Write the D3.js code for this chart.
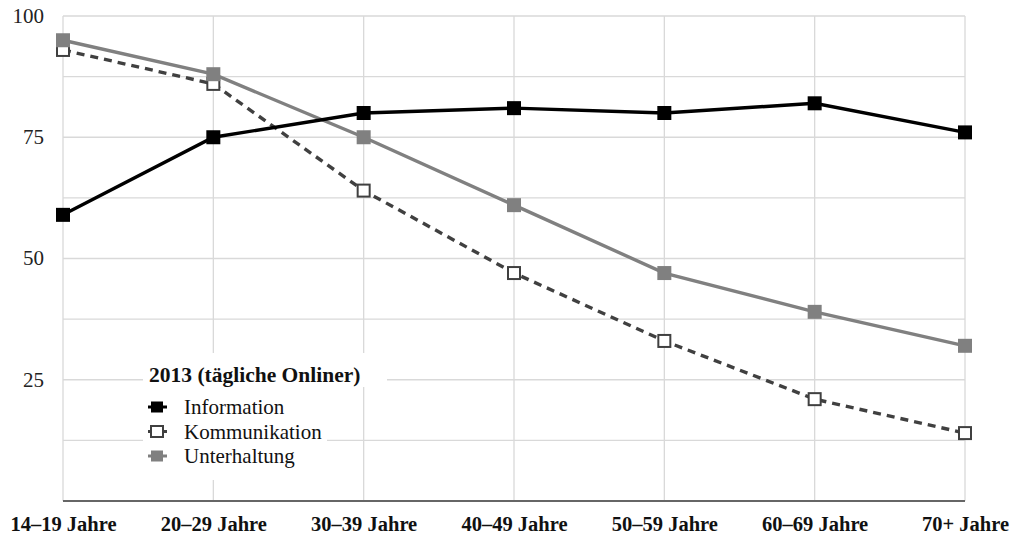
<!DOCTYPE html>
<html><head><meta charset="utf-8">
<script src="https://cdn.jsdelivr.net/npm/d3@7"></script>
<style>body{margin:0;background:#fff}svg{display:block;font-family:"Liberation Serif","Times New Roman",serif}</style>
</head><body><svg id="c" width="1014" height="535"></svg>
<script>
const categories = ["14–19 Jahre","20–29 Jahre","30–39 Jahre","40–49 Jahre","50–59 Jahre","60–69 Jahre","70+ Jahre"];
const information = [59,75,80,81,80,82,76];
const kommunikation = [93,86,64,47,33,21,14];
const unterhaltung = [95,88,75,61,47,39,32];
const yTicks = [25,50,75,100];
const gridTicks = [12.5,25,37.5,50,62.5,75,87.5,100];
const legendTitle = "2013 (tägliche Onliner)";

const svg = d3.select("#c");
const x = d3.scalePoint().domain(categories).range([63,965]);
const y = d3.scaleLinear().domain([0,100]).range([501,16]);

// grid
svg.append("g").selectAll("line").data(gridTicks).join("line")
  .attr("x1",63).attr("x2",965).attr("y1",d=>y(d)).attr("y2",d=>y(d))
  .attr("stroke","#d9d9d9").attr("stroke-width",1.3);
svg.append("g").selectAll("line").data(categories).join("line")
  .attr("x1",d=>x(d)).attr("x2",d=>x(d)).attr("y1",y(100)).attr("y2",y(0))
  .attr("stroke","#d9d9d9").attr("stroke-width",1.3);

// y labels
const ya = svg.append("g").attr("transform","translate(44,0)")
  .call(d3.axisLeft(y).tickValues(yTicks).tickSize(0).tickPadding(0));
ya.select(".domain").remove();
ya.selectAll("text").attr("font-family","Liberation Serif").attr("font-size",21).attr("fill","#222").attr("dy","0.3em");

// x axis
const xa = svg.append("g").attr("transform",`translate(0,${y(0)})`)
  .call(d3.axisBottom(x).tickSize(0).tickPadding(15));
xa.select(".domain").attr("stroke","#666").attr("stroke-width",2.2).attr("d","M63,0H965");
xa.selectAll("text").attr("font-family","Liberation Serif").attr("font-size",20.5).attr("font-weight","bold").attr("fill","#111").attr("dy","0.75em");

// legend backgrounds
svg.append("rect").attr("x",143).attr("y",353).attr("width",244).attr("height",34).attr("fill","#fff");
svg.append("rect").attr("x",143).attr("y",387).attr("width",184).attr("height",93).attr("fill","#fff");

const series = [
  {name:"Information", values:information, color:"#000", dash:null, fill:"#000", mstroke:"#000"},
  {name:"Kommunikation", values:kommunikation, color:"#404040", dash:"8,6", fill:"#fff", mstroke:"#404040"},
  {name:"Unterhaltung", values:unterhaltung, color:"#808080", dash:null, fill:"#808080", mstroke:"#808080"}
];
const drawOrder = [series[1], series[2], series[0]];
const line = d3.line().x((d,i)=>x(categories[i])).y(d=>y(d));
drawOrder.forEach(s=>{
  const g = svg.append("g");
  g.append("path").datum(s.values).attr("d",line).attr("fill","none")
    .attr("stroke",s.color).attr("stroke-width",3.4).attr("stroke-dasharray",s.dash);
  const sz = s.name==="Kommunikation"?12:14;
  const sw = s.name==="Kommunikation"?2:0;
  g.selectAll("rect").data(s.values).join("rect")
    .attr("x",(d,i)=>x(categories[i])-sz/2).attr("y",d=>y(d)-sz/2)
    .attr("width",sz).attr("height",sz).attr("fill",s.fill)
    .attr("stroke",s.mstroke).attr("stroke-width",sw);
});

// legend
svg.append("text").attr("x",149).attr("y",382).attr("font-size",21.5).attr("font-weight","bold").attr("fill","#111").text(legendTitle);
const lg = svg.append("g").selectAll("g").data(series).join("g")
  .attr("transform",(d,i)=>`translate(0,${407+i*24.5})`);
lg.append("line").attr("x1",148).attr("x2",167).attr("y1",0).attr("y2",0)
  .attr("stroke",d=>d.color).attr("stroke-width",3);
lg.append("rect").attr("x",151).attr("y",-5.5).attr("width",12).attr("height",11)
  .attr("fill",d=>d.fill).attr("stroke",d=>d.mstroke).attr("stroke-width",d=>d.name==="Kommunikation"?2:0);
lg.append("text").attr("x",184).attr("y",7).attr("font-size",21).attr("fill","#111").text(d=>d.name);
</script></body></html>
